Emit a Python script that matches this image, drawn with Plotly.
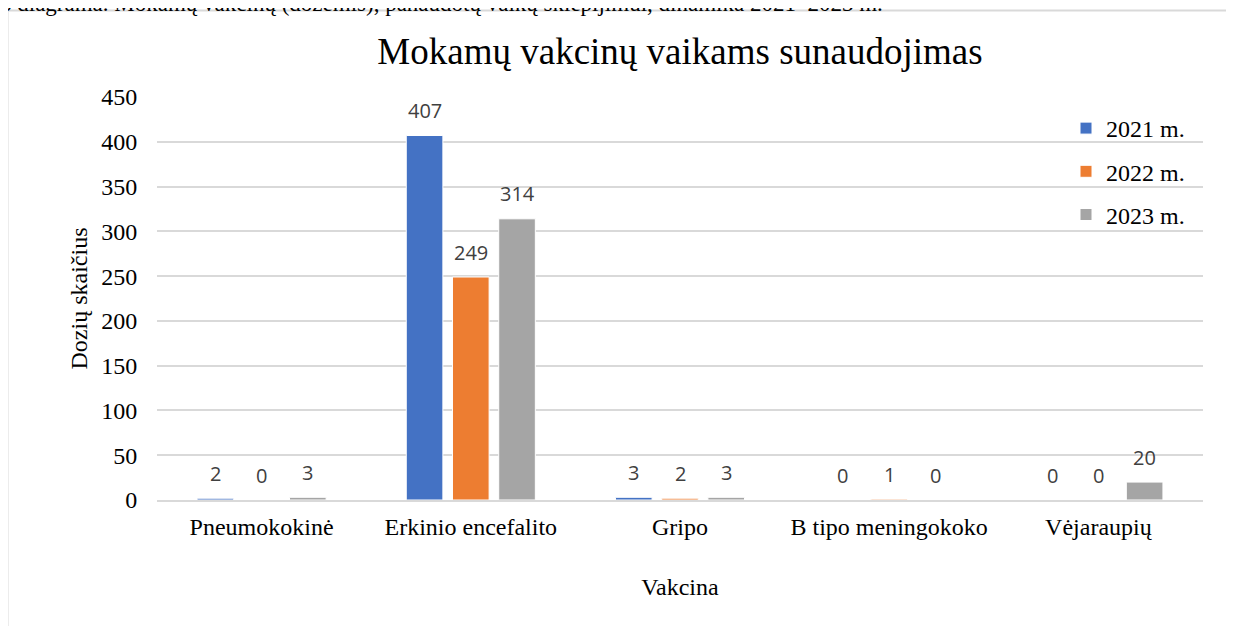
import plotly.graph_objects as go

# data
vakcinos = ['Pneumokokinė', 'Erkinio encefalito', 'Gripo', 'B tipo meningokoko', 'Vėjaraupių']
metai = ['2021 m.', '2022 m.', '2023 m.']
dozes_2021 = [2, 407, 3, 0, 0]
dozes_2022 = [0, 249, 2, 1, 0]
dozes_2023 = [3, 314, 3, 0, 20]
spalvos = ['#4472C4', '#ED7D31', '#A5A5A5']

W, H = 1234, 626
OFF = 8  # page body margin, positions below are given in screen pixels
L, R, T, B = 149, 39, 89, 134
pw, ph = W - L - R, H - T - B
GAP = 0.337


def px_x(x):
    return (x - OFF - L) / pw


def px_y(y):
    return (H - B - (y - OFF)) / ph


serif = 'Liberation Serif, Times New Roman, serif'

fig = go.Figure()
for name, vals, col in zip(metai, [dozes_2021, dozes_2022, dozes_2023], spalvos):
    fig.add_trace(go.Bar(x=vakcinos, y=vals, name=name,
                         marker=dict(color=col, line=dict(color='white', width=1))))

# value labels above the bars (Excel style, a bit lifted)
slot = (1 - GAP) * pw / len(vakcinos) / len(metai)
for i, vals in enumerate([dozes_2021, dozes_2022, dozes_2023]):
    for cat, v in zip(vakcinos, vals):
        fig.add_annotation(x=cat, y=v, text=str(v), showarrow=False,
                           xshift=(i - 1) * slot, yshift=25, yanchor='middle',
                           font=dict(family='Open Sans, sans-serif', size=20, color='#404040'))

fig.update_layout(
    width=W, height=H,
    margin=dict(l=L, r=R, t=T, b=B, autoexpand=False),
    paper_bgcolor='white', plot_bgcolor='white',
    barmode='group', bargap=GAP, bargroupgap=0.208,
    font=dict(family=serif, size=24, color='black'),
    title=dict(text='Mokamų vakcinų vaikams sunaudojimas', xref='container', yref='container',
               x=(680 - OFF) / W, xanchor='center', y=1 - (51 - OFF) / H, yanchor='middle',
               font=dict(family=serif, size=37, color='black')),
    legend=dict(x=px_x(1066), y=px_y(106), xanchor='left', yanchor='top',
                bgcolor='rgba(0,0,0,0)', tracegroupgap=9, traceorder='normal',
                font=dict(family=serif, size=24, color='black'), itemwidth=30),
)
# one legend group per year so the gap applies between the items
for tr, name in zip(fig.data, metai):
    tr.legendgroup = name
fig.update_layout(legend_traceorder='grouped')

fig.update_yaxes(range=[0, 450], dtick=50, showgrid=True, gridcolor='#D9D9D9', gridwidth=1.5,
                 zeroline=False, showline=False, ticks='outside', ticklen=14, tickcolor='rgba(0,0,0,0)',
                 tickfont=dict(family=serif, size=24, color='black'),
                 title=dict(text='Dozių skaičius', standoff=6, font=dict(family=serif, size=24)))
fig.update_xaxes(showline=True, linecolor='#D9D9D9', linewidth=1.5, showgrid=False,
                 ticks='outside', ticklen=4, tickcolor='rgba(0,0,0,0)',
                 tickfont=dict(family=serif, size=24, color='black'),
                 title=dict(text='Vakcina', standoff=40, font=dict(family=serif, size=24)))

# chart frame
fig.add_shape(type='line', xref='paper', yref='paper', x0=px_x(7.5), x1=px_x(7.5), y0=px_y(10.5), y1=px_y(650),
              line=dict(color='#D9D9D9', width=2))
fig.add_shape(type='line', xref='paper', yref='paper', x0=px_x(7.5), x1=px_x(1260), y0=px_y(10.5), y1=px_y(10.5),
              line=dict(color='#D9D9D9', width=2))

# caption cut at the top edge
fig.add_annotation(text='6 diagrama. Mokamų vakcinų (dozėmis), panaudotų vaikų skiepijimui, dinamika 2021–2023 m.',
                   xref='paper', yref='paper', x=px_x(-2), y=px_y(3), xanchor='left', yanchor='middle',
                   showarrow=False, font=dict(family=serif, size=23, color='black'))

fig.write_html('out.html')
